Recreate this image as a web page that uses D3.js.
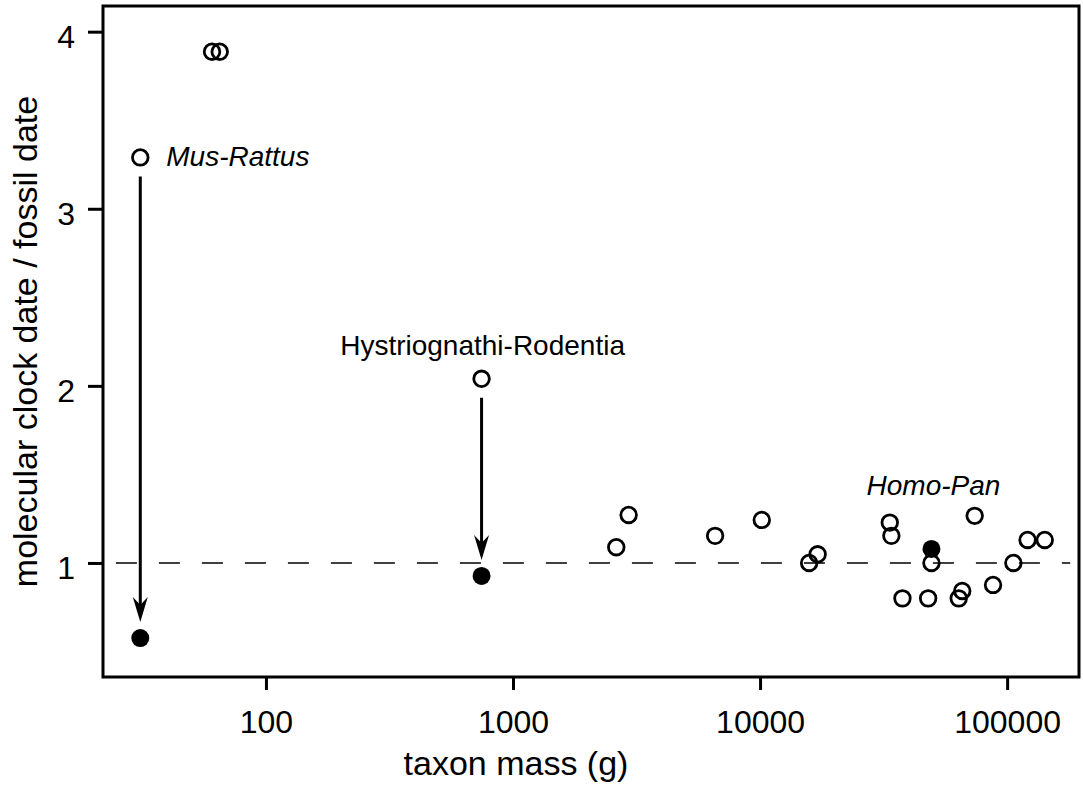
<!DOCTYPE html>
<html>
<head>
<meta charset="utf-8">
<script src="https://cdn.jsdelivr.net/npm/d3@7/dist/d3.min.js"></script>
<style>
  body { margin: 0; background: #fff; }
  svg { display: block; font-family: "Liberation Sans", Arial, sans-serif; }
</style>
</head>
<body>
<div id="graph"></div>
<script>
// taxon mass (g) vs molecular clock date / fossil date
var openMass  = [60.5, 65, 31, 746, 2938, 2618, 6577, 10160, 17100, 15800, 33500, 34000, 49400,
                 73900, 37700, 47900, 63700, 65800, 87700, 106000, 121000, 142000];
var openRatio = [3.887, 3.887, 3.29, 2.04, 1.271, 1.089, 1.153, 1.243, 1.049, 1.0, 1.228, 1.153, 1.0,
                 1.266, 0.80, 0.80, 0.80, 0.842, 0.876, 1.0, 1.13, 1.13];
var filledMass  = [31, 746, 49400];
var filledRatio = [0.576, 0.927, 1.079];

// corrections: open point -> filled point
var arrowMass = [31, 746];
var arrowFrom = [3.29, 2.04];
var arrowTo   = [0.576, 0.927];

var labels = [
  {text: "Mus-Rattus", mass: 31, ratio: 3.29, italic: true},
  {text: "Hystriognathi-Rodentia", mass: 746, ratio: 2.04, italic: false},
  {text: "Homo-Pan", mass: 49400, ratio: 1.079, italic: true}
];

var xTicks = [100, 1000, 10000, 100000];
var yTicks = [1, 2, 3, 4];
var refRatio = 1;
var refMassExtent = [24.7, 180000];

var w = 1083, h = 793;
var plotLeft = 103, plotRight = 1079, plotTop = 6, plotBottom = 677;

var svg = d3.select("div#graph").append("svg")
  .attr("width", w)
  .attr("height", h);

var x = d3.scaleLog().domain([21.9, 195400]).range([plotLeft, plotRight]);
var y = d3.scaleLinear().domain([0.356, 4.145]).range([plotBottom, plotTop]);

// x axis
var gx = svg.append("g")
  .attr("transform", "translate(0," + plotBottom + ")")
  .call(d3.axisBottom(x).tickValues(xTicks).tickFormat(d3.format("d")).tickSize(13).tickPadding(20));
gx.select(".domain").remove();
gx.selectAll(".tick line").attr("stroke", "#000").attr("stroke-width", 3);
gx.selectAll(".tick text").attr("font-size", 32).attr("fill", "#000");

// y axis
var gy = svg.append("g")
  .attr("transform", "translate(" + plotLeft + ",0)")
  .call(d3.axisLeft(y).tickValues(yTicks).tickFormat(d3.format("d")).tickSize(15).tickPadding(13));
gy.select(".domain").remove();
gy.selectAll(".tick line").attr("stroke", "#000").attr("stroke-width", 3);
gy.selectAll(".tick text").attr("font-size", 32).attr("fill", "#000").attr("dy", "0.5em");
svg.selectAll("g").attr("font-family", null).attr("font-size", null);

// frame
svg.append("rect")
  .attr("x", plotLeft).attr("y", plotTop)
  .attr("width", plotRight - plotLeft).attr("height", plotBottom - plotTop)
  .attr("fill", "none").attr("stroke", "#000").attr("stroke-width", 3);

// axis titles
svg.append("text")
  .attr("x", 516).attr("y", 775)
  .attr("text-anchor", "middle")
  .attr("font-size", 34)
  .text("taxon mass (g)");
svg.append("text")
  .attr("transform", "translate(37," + ((plotTop + plotBottom) / 2) + ") rotate(-90)")
  .attr("text-anchor", "middle")
  .attr("font-size", 34)
  .text("molecular clock date / fossil date");

// reference line at ratio 1
svg.append("line")
  .attr("x1", x(refMassExtent[0])).attr("x2", x(refMassExtent[1]))
  .attr("y1", y(refRatio)).attr("y2", y(refRatio))
  .attr("stroke", "#000").attr("stroke-width", 1.5)
  .attr("stroke-dasharray", "21,22");

// arrows
arrowMass.forEach(function(m, i) {
  var ax = x(m), y0 = y(arrowFrom[i]) + 19, y1 = y(arrowTo[i]) - 16;
  svg.append("line")
    .attr("x1", ax).attr("x2", ax)
    .attr("y1", y0).attr("y2", y1 - 12)
    .attr("stroke", "#000").attr("stroke-width", 3);
  svg.append("path")
    .attr("d", "M" + ax + "," + y1 + " L" + (ax - 7.5) + "," + (y1 - 25) +
               " L" + ax + "," + (y1 - 17) + " L" + (ax + 7.5) + "," + (y1 - 25) + " Z")
    .attr("fill", "#000");
});

// open circles
svg.selectAll("circle.open")
  .data(openMass).enter().append("circle")
  .attr("class", "open")
  .attr("cx", function(d) { return x(d); })
  .attr("cy", function(d, i) { return y(openRatio[i]); })
  .attr("r", 7.8)
  .attr("fill", "none")
  .attr("stroke", "#000")
  .attr("stroke-width", 2.8);

// filled circles
svg.selectAll("circle.filled")
  .data(filledMass).enter().append("circle")
  .attr("class", "filled")
  .attr("cx", function(d) { return x(d); })
  .attr("cy", function(d, i) { return y(filledRatio[i]); })
  .attr("r", 9)
  .attr("fill", "#000");

// annotations
var lab = svg.selectAll("text.lab")
  .data(labels).enter().append("text")
  .attr("class", "lab")
  .attr("font-size", 28)
  .attr("font-style", function(d) { return d.italic ? "italic" : "normal"; })
  .text(function(d) { return d.text; });
lab.filter(function(d, i) { return i == 0; })
  .attr("x", function(d) { return x(d.mass) + 26; })
  .attr("y", function(d) { return y(d.ratio) + 9; });
lab.filter(function(d, i) { return i == 1; })
  .attr("text-anchor", "middle")
  .attr("x", function(d) { return x(d.mass) + 1; })
  .attr("y", function(d) { return y(d.ratio) - 24; });
lab.filter(function(d, i) { return i == 2; })
  .attr("text-anchor", "middle")
  .attr("x", function(d) { return x(d.mass) + 2; })
  .attr("y", function(d) { return y(d.ratio) - 54; });
</script>
</body>
</html>
